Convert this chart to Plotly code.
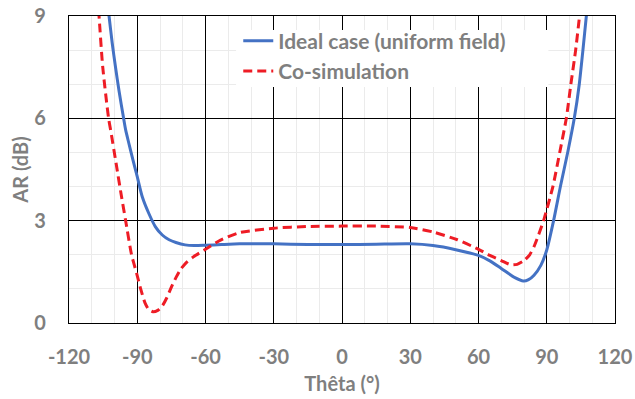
import plotly.graph_objects as go

# Ideal case (uniform field)
theta_ideal = [-104.5, -102.4, -101.0, -99.6, -98.0, -96.0, -95.1, -93.7, -91.9, -90.0, -87.8,
               -84.9, -82.0, -79.0, -76.0, -73.0, -69.0, -65.0, -60.0, -53.0, -45.0, -30.0,
               -15.0, 0.0, 15.0, 30.0, 40.0, 50.0, 60.0, 65.0, 70.0, 76.0, 79.7, 82.0, 84.4,
               87.4, 90.0, 93.0, 96.0, 99.2, 102.1, 104.3, 105.9, 107.4, 108.5]
ar_ideal = [10.2, 9.0, 8.2, 7.52, 6.8, 6.0, 5.66, 5.27, 4.78, 4.29, 3.70,
            3.21, 2.82, 2.58, 2.44, 2.36, 2.29, 2.27, 2.28, 2.30, 2.32, 2.32,
            2.30, 2.30, 2.31, 2.32, 2.27, 2.15, 1.98, 1.82, 1.60, 1.33, 1.23, 1.27, 1.40,
            1.69, 2.14, 3.0, 4.0, 5.0, 6.0, 7.0, 8.0, 9.0, 9.8]

# Co-simulation
theta_cosim = [-108.0, -106.8, -105.2, -102.6, -101.7, -99.3, -96.9, -95.1, -92.5, -90.3,
               -88.5, -86.6, -85.0, -83.1, -81.0, -79.0, -77.0, -75.0, -73.0, -70.9, -68.0,
               -65.1, -60.0, -53.4, -45.0, -30.0, -15.0, 0.0, 15.0, 30.0, 40.5, 50.7, 60.0,
               65.0, 70.0, 74.1, 77.0, 80.0, 82.5, 84.4, 86.5, 88.6, 92.7, 95.7, 98.6,
               100.6, 102.7, 104.4, 105.5]
ar_cosim = [10.0, 9.0, 7.52, 6.0, 5.66, 4.68, 3.70, 3.0, 2.0, 1.46,
            1.0, 0.59, 0.40, 0.33, 0.37, 0.50, 0.74, 1.05, 1.33, 1.58, 1.80,
            1.95, 2.16, 2.43, 2.65, 2.78, 2.83, 2.84, 2.84, 2.80, 2.66, 2.44, 2.16,
            1.98, 1.83, 1.71, 1.72, 1.83, 2.0, 2.24, 2.6, 3.0, 4.0, 5.0, 6.0,
            7.0, 8.0, 9.0, 9.8]

x_ticks = [-120, -90, -60, -30, 0, 30, 60, 90, 120]
y_ticks = [0, 3, 6, 9]

GRAY = "#7f7f7f"
FONT = "Lato"

fig = go.Figure()
fig.add_trace(go.Scatter(x=theta_ideal, y=ar_ideal, mode="lines",
                         name="Ideal case (uniform field)",
                         line=dict(color="#4472c4", width=3, shape="spline", smoothing=0.6)))
fig.add_trace(go.Scatter(x=theta_cosim, y=ar_cosim, mode="lines",
                         name="Co-simulation",
                         line=dict(color="#ee1c25", width=3, dash="9px,5px",
                                   shape="spline", smoothing=0.6)))

# white legend background box covering the gridlines
fig.add_shape(type="rect", xref="paper", yref="paper",
              x0=0.306, x1=0.878, y0=0.769, y1=0.954,
              fillcolor="white", line=dict(width=0), layer="above")

fig.update_layout(
    width=635, height=399,
    margin=dict(l=69, r=20, t=16, b=76),
    paper_bgcolor="white", plot_bgcolor="white",
    font=dict(family=FONT, size=20, color=GRAY, weight="bold"),
    legend=dict(x=0.31, y=0.985, xanchor="left", yanchor="top",
                bgcolor="rgba(0,0,0,0)", borderwidth=0,
                font=dict(family=FONT, size=21, color=GRAY, weight="bold"),
                tracegroupgap=0),
    showlegend=True,
)
fig.update_xaxes(
    range=[-120, 120], tickvals=x_ticks, ticktext=[str(v) for v in x_ticks],
    showgrid=True, gridcolor="black", gridwidth=1.3,
    showline=True, linecolor="black", linewidth=1.3, mirror=True,
    zeroline=False, ticks="", ticklabelstandoff=16, automargin=False,
    minor=dict(dtick=10, tick0=0, showgrid=True, gridcolor="#ebebeb", gridwidth=1),
    title=dict(text="Thêta (°)", standoff=9,
               font=dict(family=FONT, size=20, color=GRAY, weight="bold")),
    tickfont=dict(family=FONT, size=20, color=GRAY, weight="bold"),
)
fig.update_yaxes(
    range=[0, 9], tickvals=y_ticks, ticktext=[str(v) for v in y_ticks],
    showgrid=True, gridcolor="black", gridwidth=1.3,
    showline=True, linecolor="black", linewidth=1.3, mirror=True,
    zeroline=False, ticks="", ticklabelstandoff=18, automargin=False,
    minor=dict(dtick=1, tick0=0, showgrid=True, gridcolor="#ebebeb", gridwidth=1),
    title=dict(text="AR (dB)", standoff=0,
               font=dict(family=FONT, size=20, color=GRAY, weight="bold")),
    tickfont=dict(family=FONT, size=20, color=GRAY, weight="bold"),
)

fig.write_html("out.html")
